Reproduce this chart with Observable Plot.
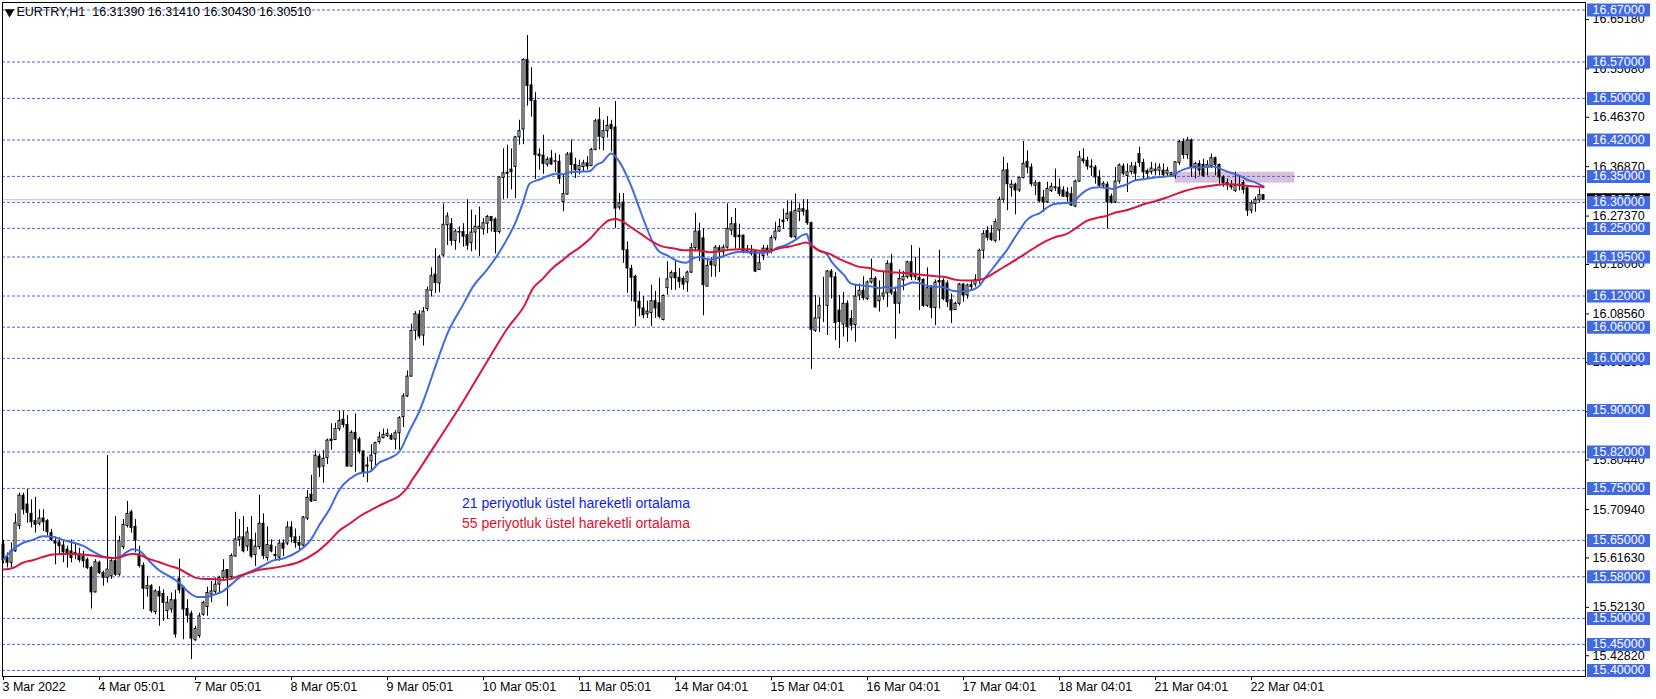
<!DOCTYPE html>
<html><head><meta charset="utf-8">
<script src="https://cdn.jsdelivr.net/npm/d3@7"></script>
<script src="https://cdn.jsdelivr.net/npm/@observablehq/plot@0.6"></script>
<style>
html,body{margin:0;padding:0;background:#fff;}
#chart svg{display:block;}
</style></head><body><div id="chart"></div>
<script>
// ---- EURTRY H1 candles (index 0 = 3 Mar 2022) ----
const opens = [
15.642,15.616,15.607,15.629,15.678,15.736,15.719,15.701,15.687,15.682,
15.692,15.687,15.664,15.648,15.646,15.640,15.632,15.629,15.626,15.623,
15.619,15.612,15.597,15.550,15.607,15.587,15.578,15.581,15.610,15.584,
15.637,15.678,15.704,15.676,15.623,15.601,15.557,15.562,15.512,15.551,
15.547,15.514,15.517,15.535,15.576,15.560,15.518,15.509,15.458,15.466,
15.507,15.522,15.546,15.551,15.565,15.578,15.593,15.579,15.619,15.651,
15.656,15.638,15.651,15.622,15.637,15.682,15.616,15.640,15.622,15.617,
15.644,15.644,15.675,15.656,15.645,15.640,15.692,15.738,15.726,15.811,
15.792,15.808,15.844,15.843,15.864,15.882,15.872,15.792,15.857,15.844,
15.821,15.794,15.802,15.816,15.839,15.847,15.851,15.851,15.844,15.856,
15.887,15.927,15.965,16.053,16.084,16.044,16.095,16.130,16.161,16.144,
16.198,16.256,16.258,16.226,16.243,16.243,16.237,16.222,16.242,16.249,
16.248,16.259,16.272,16.267,16.243,16.347,16.357,16.363,16.368,16.425,
16.440,16.574,16.525,16.495,16.392,16.390,16.373,16.384,16.378,16.378,
16.301,16.315,16.394,16.372,16.362,16.368,16.375,16.370,16.401,16.458,
16.424,16.437,16.449,16.444,16.290,16.300,16.208,16.172,16.157,16.109,
16.096,16.085,16.087,16.110,16.106,16.074,16.135,16.155,16.164,16.155,
16.153,16.146,16.165,16.212,16.244,16.231,16.138,16.186,16.178,16.212,
16.204,16.213,16.246,16.258,16.236,16.236,16.204,16.205,16.205,16.170,
16.197,16.211,16.209,16.231,16.244,16.265,16.268,16.281,16.233,16.282,
16.287,16.284,16.260,16.053,16.077,16.100,16.101,16.167,16.156,16.092,
16.065,16.105,16.076,16.064,16.121,16.130,16.114,16.146,16.153,16.110,
16.119,16.125,16.182,16.127,16.105,16.150,16.156,16.185,16.162,16.155,
16.151,16.101,16.138,16.097,16.149,16.149,16.144,16.112,16.093,16.105,
16.142,16.121,16.141,16.142,16.150,16.207,16.245,16.240,16.226,16.246,
16.305,16.362,16.328,16.334,16.323,16.347,16.378,16.367,16.332,16.337,
16.309,16.300,16.322,16.327,16.328,16.323,16.319,16.316,16.292,16.340,
16.383,16.380,16.369,16.367,16.348,16.332,16.334,16.311,16.300,16.340,
16.369,16.351,16.358,16.369,16.393,16.376,16.360,16.358,16.360,16.361,
16.361,16.355,16.352,16.352,16.376,16.416,16.391,16.419,16.368,16.374,
16.372,16.367,16.370,16.385,16.372,16.348,16.337,16.332,16.322,16.332,
16.337,16.327,16.284,16.297,16.304,16.3139];
const highs = [
15.650,15.626,15.645,15.701,15.741,15.741,15.748,15.728,15.733,15.709,
15.709,15.690,15.671,15.655,15.655,15.648,15.639,15.651,15.645,15.635,
15.629,15.616,15.600,15.613,15.610,15.591,15.813,15.613,15.696,15.658,
15.690,15.725,15.708,15.690,15.639,15.607,15.581,15.565,15.555,15.561,
15.555,15.542,15.549,15.554,15.614,15.562,15.536,15.514,15.485,15.510,
15.533,15.560,15.571,15.578,15.581,15.613,15.594,15.624,15.704,15.690,
15.696,15.675,15.696,15.664,15.737,15.701,15.676,15.651,15.638,15.651,
15.651,15.686,15.686,15.672,15.658,15.696,15.746,15.775,15.823,15.816,
15.823,15.845,15.874,15.875,15.899,15.898,15.890,15.861,15.893,15.848,
15.822,15.810,15.834,15.839,15.858,15.864,15.864,15.855,15.861,15.888,
15.932,15.976,16.066,16.090,16.092,16.098,16.137,16.174,16.211,16.198,
16.297,16.280,16.269,16.248,16.253,16.259,16.305,16.285,16.275,16.291,
16.269,16.275,16.273,16.270,16.349,16.403,16.410,16.403,16.427,16.458,
16.576,16.621,16.559,16.511,16.403,16.429,16.387,16.400,16.394,16.391,
16.353,16.396,16.420,16.385,16.381,16.381,16.388,16.404,16.460,16.482,
16.458,16.465,16.458,16.494,16.317,16.317,16.224,16.179,16.160,16.128,
16.119,16.110,16.141,16.129,16.154,16.122,16.186,16.168,16.186,16.173,
16.157,16.168,16.221,16.279,16.260,16.250,16.191,16.194,16.217,16.217,
16.218,16.297,16.271,16.288,16.258,16.237,16.217,16.217,16.207,16.204,
16.217,16.217,16.236,16.262,16.268,16.287,16.303,16.303,16.316,16.297,
16.305,16.305,16.262,16.121,16.117,16.156,16.169,16.171,16.165,16.121,
16.127,16.111,16.092,16.142,16.143,16.157,16.149,16.191,16.157,16.149,
16.166,16.188,16.200,16.137,16.170,16.167,16.187,16.217,16.194,16.212,
16.153,16.174,16.140,16.151,16.208,16.153,16.149,16.124,16.108,16.144,
16.144,16.143,16.149,16.161,16.210,16.246,16.253,16.255,16.268,16.310,
16.387,16.375,16.342,16.337,16.348,16.417,16.399,16.374,16.342,16.339,
16.323,16.339,16.337,16.364,16.345,16.330,16.328,16.329,16.343,16.398,
16.403,16.387,16.382,16.371,16.361,16.340,16.339,16.316,16.367,16.374,
16.374,16.374,16.377,16.377,16.406,16.383,16.364,16.377,16.375,16.374,
16.374,16.367,16.358,16.378,16.419,16.422,16.425,16.422,16.377,16.380,
16.383,16.380,16.393,16.387,16.374,16.351,16.345,16.342,16.358,16.351,
16.342,16.329,16.303,16.310,16.326,16.3141];
const lows = [
15.605,15.597,15.597,15.627,15.671,15.699,15.683,15.674,15.664,15.678,
15.667,15.658,15.648,15.603,15.623,15.607,15.597,15.607,15.613,15.607,
15.597,15.594,15.518,15.549,15.584,15.562,15.568,15.575,15.581,15.581,
15.632,15.674,15.664,15.626,15.597,15.517,15.541,15.510,15.507,15.485,
15.494,15.498,15.510,15.462,15.547,15.459,15.491,15.421,15.456,15.462,
15.504,15.504,15.530,15.546,15.546,15.575,15.523,15.577,15.618,15.638,
15.626,15.629,15.615,15.600,15.632,15.613,15.610,15.626,15.613,15.610,
15.619,15.640,15.645,15.635,15.630,15.635,15.688,15.723,15.725,15.771,
15.760,15.796,15.823,15.842,15.860,15.866,15.791,15.791,15.781,15.816,
15.771,15.761,15.781,15.794,15.835,15.845,15.848,15.842,15.824,15.824,
15.867,15.925,15.964,16.034,16.037,16.024,16.090,16.118,16.125,16.126,
16.195,16.217,16.216,16.208,16.221,16.214,16.208,16.205,16.208,16.196,
16.237,16.240,16.243,16.201,16.239,16.305,16.307,16.324,16.307,16.410,
16.411,16.485,16.464,16.344,16.362,16.354,16.368,16.371,16.358,16.335,
16.282,16.314,16.353,16.346,16.353,16.359,16.362,16.369,16.399,16.401,
16.399,16.424,16.397,16.250,16.285,16.183,16.125,16.109,16.061,16.080,
16.076,16.077,16.061,16.077,16.076,16.072,16.122,16.131,16.131,16.135,
16.131,16.127,16.163,16.205,16.186,16.082,16.138,16.156,16.156,16.165,
16.194,16.210,16.236,16.210,16.210,16.201,16.201,16.197,16.165,16.169,
16.188,16.197,16.201,16.226,16.242,16.249,16.263,16.231,16.229,16.263,
16.274,16.256,15.979,16.050,16.050,16.069,16.044,16.114,16.034,16.019,
16.041,16.031,16.053,16.031,16.111,16.111,16.111,16.143,16.097,16.089,
16.112,16.098,16.121,16.037,16.085,16.130,16.153,16.150,16.150,16.092,
16.098,16.098,16.076,16.063,16.095,16.111,16.098,16.067,16.092,16.101,
16.108,16.114,16.130,16.137,16.143,16.191,16.226,16.225,16.222,16.226,
16.300,16.284,16.310,16.276,16.319,16.345,16.355,16.330,16.313,16.300,
16.281,16.298,16.319,16.321,16.311,16.310,16.300,16.292,16.290,16.339,
16.374,16.362,16.350,16.335,16.329,16.326,16.249,16.297,16.298,16.335,
16.351,16.319,16.353,16.342,16.367,16.342,16.345,16.353,16.351,16.351,
16.346,16.350,16.348,16.345,16.371,16.383,16.383,16.348,16.345,16.351,
16.348,16.351,16.365,16.351,16.335,16.329,16.323,16.324,16.319,16.322,
16.316,16.273,16.278,16.281,16.299,16.3043];
const closes = [
15.612,15.607,15.629,15.683,15.736,15.709,15.703,15.685,15.680,15.692,
15.685,15.666,15.651,15.644,15.639,15.627,15.623,15.616,15.623,15.612,
15.610,15.597,15.550,15.608,15.587,15.578,15.594,15.610,15.584,15.648,
15.680,15.701,15.674,15.650,15.601,15.557,15.562,15.514,15.552,15.542,
15.530,15.530,15.535,15.469,15.554,15.517,15.505,15.461,15.480,15.504,
15.530,15.549,15.552,15.565,15.578,15.591,15.577,15.620,15.652,15.656,
15.629,15.665,15.619,15.638,15.682,15.620,15.641,15.629,15.620,15.644,
15.634,15.675,15.656,15.645,15.640,15.694,15.732,15.725,15.813,15.790,
15.807,15.842,15.841,15.864,15.880,15.872,15.792,15.857,15.844,15.821,
15.781,15.792,15.813,15.837,15.848,15.853,15.855,15.844,15.856,15.885,
15.927,15.965,16.053,16.085,16.042,16.090,16.131,16.158,16.145,16.194,
16.257,16.273,16.226,16.244,16.242,16.234,16.217,16.242,16.253,16.253,
16.260,16.272,16.264,16.243,16.348,16.356,16.355,16.358,16.425,16.437,
16.574,16.524,16.495,16.391,16.389,16.374,16.382,16.373,16.379,16.345,
16.316,16.392,16.372,16.362,16.370,16.375,16.369,16.401,16.456,16.426,
16.437,16.447,16.441,16.288,16.298,16.208,16.173,16.155,16.109,16.096,
16.083,16.090,16.110,16.096,16.080,16.120,16.152,16.164,16.154,16.147,
16.142,16.165,16.212,16.244,16.208,16.141,16.178,16.179,16.213,16.205,
16.213,16.249,16.258,16.233,16.233,16.204,16.207,16.201,16.167,16.183,
16.211,16.204,16.231,16.244,16.253,16.262,16.278,16.233,16.284,16.287,
16.282,16.260,16.055,16.077,16.101,16.100,16.167,16.156,16.068,16.070,
16.105,16.060,16.063,16.119,16.130,16.116,16.146,16.153,16.098,16.119,
16.125,16.182,16.125,16.105,16.153,16.157,16.185,16.157,16.156,16.150,
16.101,16.135,16.097,16.146,16.146,16.114,16.108,16.092,16.105,16.142,
16.121,16.140,16.137,16.151,16.207,16.239,16.232,16.228,16.262,16.305,
16.361,16.335,16.334,16.323,16.347,16.374,16.367,16.335,16.337,16.302,
16.300,16.326,16.330,16.329,16.316,16.311,16.310,16.294,16.340,16.387,
16.379,16.369,16.367,16.348,16.332,16.336,16.300,16.300,16.340,16.371,
16.355,16.358,16.369,16.355,16.376,16.358,16.355,16.365,16.363,16.367,
16.353,16.361,16.356,16.377,16.416,16.391,16.419,16.367,16.374,16.361,
16.351,16.372,16.385,16.372,16.348,16.337,16.333,16.329,16.332,16.334,
16.324,16.284,16.298,16.305,16.314,16.3051];

// ---- moving averages: [bar index, value] ----
const ema21 = [[0,15.613],[2.3,15.632],[4.8,15.645],[7.3,15.651],[9.8,15.658],[12.3,15.657],[14.8,15.651],[17.3,15.646],[19.8,15.640],[22.3,15.629],[24.8,15.619],[27.3,15.616],[29,15.618],[30.7,15.627],[32.3,15.633],[34,15.630],[36.5,15.610],[39,15.592],[41.5,15.581],[44,15.568],[46.5,15.549],[48.6,15.541],[50.7,15.541],[52.75,15.546],[54.8,15.552],[56.9,15.565],[59,15.579],[61.1,15.588],[63.2,15.595],[65.25,15.603],[67.3,15.611],[70.25,15.616],[73.5,15.628],[76.9,15.652],[79,15.680],[81.5,15.710],[84,15.748],[86.5,15.768],[89,15.779],[91.5,15.782],[94,15.800],[96.5,15.808],[99,15.821],[101.5,15.861],[104,15.899],[105.25,15.924],[108,15.985],[111,16.048],[114.8,16.102],[117.3,16.137],[120.7,16.169],[123.2,16.195],[125.7,16.227],[128.2,16.265],[129.8,16.298],[131.5,16.336],[134,16.344],[136.5,16.352],[138.2,16.355],[139.8,16.354],[141.5,16.358],[144,16.359],[146.5,16.360],[148.2,16.372],[149.8,16.378],[151.9,16.394],[154,16.378],[155.7,16.353],[157.3,16.324],[159,16.288],[160.7,16.253],[162.3,16.224],[164,16.205],[165.7,16.199],[167.3,16.192],[169,16.186],[170.7,16.184],[172.3,16.192],[174,16.195],[176.5,16.190],[179,16.194],[181.5,16.201],[184,16.205],[186.5,16.204],[189,16.203],[191.5,16.204],[193.2,16.212],[195.7,16.218],[198.2,16.229],[199.8,16.237],[200.8,16.239],[201.5,16.224],[203.2,16.210],[205.7,16.201],[207.3,16.183],[209,16.169],[210.25,16.159],[211.5,16.146],[212.75,16.142],[214.8,16.140],[217.3,16.138],[219,16.135],[220.7,16.138],[222.3,16.135],[224,16.138],[225.7,16.142],[227.3,16.146],[229,16.145],[230.7,16.140],[232.3,16.138],[234,16.138],[235.7,16.135],[237.3,16.130],[239,16.129],[240.7,16.130],[242.3,16.132],[244,16.140],[245.25,16.153],[247,16.170],[249,16.190],[251,16.210],[252.3,16.226],[254,16.246],[255.7,16.265],[257.3,16.274],[259,16.279],[260.7,16.289],[262.3,16.296],[264,16.298],[265.7,16.299],[267.3,16.300],[269,16.313],[270.7,16.323],[272.3,16.328],[274,16.329],[275.7,16.328],[277.3,16.326],[279,16.330],[280.25,16.333],[282.75,16.342],[285.25,16.345],[287.75,16.348],[290.25,16.350],[292.3,16.351],[293.6,16.358],[295.25,16.364],[296.9,16.367],[299.4,16.367],[301.9,16.369],[303.6,16.367],[305.25,16.361],[307.75,16.355],[309.4,16.350],[311.1,16.343],[312.75,16.339],[314.4,16.333],[315,16.331]];
const ema55 = [[0,15.594],[2.3,15.597],[4.8,15.607],[7.3,15.612],[9.8,15.618],[12.3,15.623],[14.8,15.624],[17.3,15.624],[19.8,15.623],[22.3,15.621],[24.8,15.618],[27.3,15.616],[29,15.617],[30.7,15.622],[32.3,15.624],[34,15.622],[36.5,15.614],[39,15.608],[41.5,15.601],[44,15.595],[46.5,15.584],[48.6,15.577],[50.7,15.576],[52.75,15.576],[54.8,15.574],[56.9,15.576],[59,15.582],[61.1,15.587],[63.2,15.592],[65.25,15.595],[67.3,15.597],[70.25,15.601],[74,15.609],[78,15.626],[81.5,15.649],[84,15.669],[86.5,15.682],[89,15.696],[91.5,15.707],[94,15.717],[96.5,15.726],[99,15.736],[100.7,15.749],[102.3,15.768],[104,15.787],[105.25,15.802],[110,15.858],[114,15.906],[118,15.957],[122,16.008],[126,16.058],[130.25,16.102],[132.3,16.134],[134.8,16.153],[137.3,16.174],[139.8,16.189],[141.5,16.200],[144,16.213],[146.5,16.229],[149,16.250],[151.5,16.266],[153.2,16.268],[154.8,16.263],[157.3,16.250],[159.8,16.237],[162.3,16.224],[164.8,16.215],[167.3,16.212],[169.8,16.208],[172.3,16.208],[175.25,16.206],[176.5,16.204],[179,16.206],[181.5,16.209],[184,16.210],[186.5,16.210],[189,16.207],[191.5,16.207],[194,16.212],[196.5,16.215],[199,16.220],[200.7,16.223],[201.9,16.218],[204,16.207],[206.5,16.201],[209,16.191],[211.5,16.183],[214,16.176],[216.5,16.174],[218.2,16.169],[220.7,16.167],[223.2,16.165],[225.7,16.164],[228.2,16.162],[230.7,16.160],[233.2,16.158],[235.7,16.156],[238.2,16.151],[240.7,16.150],[243.2,16.150],[245.25,16.154],[248,16.166],[251,16.180],[254,16.194],[257,16.209],[260.7,16.226],[263.2,16.234],[265.7,16.239],[268.2,16.251],[270.7,16.264],[273.2,16.270],[275.7,16.274],[278.2,16.281],[280.25,16.284],[282.75,16.290],[285.25,16.297],[287.75,16.302],[290.25,16.308],[292.75,16.315],[295.25,16.322],[297.75,16.327],[300.25,16.330],[302.75,16.333],[305.25,16.335],[307.75,16.335],[309.4,16.333],[311.9,16.331],[314.4,16.330],[315,16.329]];

// ---- horizontal levels, price scale ticks, time labels ----
const levels = [16.67,16.57,16.50,16.42,16.35,16.30,16.25,16.195,16.12,16.06,16.00,15.90,15.82,15.75,15.65,15.58,15.50,15.45,15.40];
const priceTicks = [16.6518,16.5568,16.4637,16.3687,16.2737,16.1806,16.0856,15.9925,15.8975,15.8044,15.7094,15.6163,15.5213,15.4282];
const timeTickBars = [0,24,48,72,96,120,144,168,192,216,240,264,288,312];
const timeTickLabels = ["3 Mar 2022","4 Mar 05:01","7 Mar 05:01","8 Mar 05:01","9 Mar 05:01","10 Mar 05:01","11 Mar 05:01","14 Mar 04:01","15 Mar 04:01","16 Mar 04:01","17 Mar 04:01","18 Mar 04:01","21 Mar 04:01","22 Mar 04:01"];
const zone = {start: 292.9, end: 322.8, low: 16.337, high: 16.358};
const titleText = "EURTRY,H1  16.31390 16.31410 16.30430 16.30510";
const legendLines = ["21 periyotluk üstel hareketli ortalama","55 periyotluk üstel hareketli ortalama"];

if (!(opens.length === highs.length && highs.length === lows.length && lows.length === closes.length)) {
  throw new Error("length mismatch " + [opens.length, highs.length, lows.length, closes.length].join(","));
}

const candles = closes.map((c, i) => ({i, o: opens[i], h: highs[i], l: lows[i], c}));
const bulls = candles.filter(d => d.c >= d.o);
const bears = candles.filter(d => d.c < d.o);
const fastPts = ema21.map(([i, v]) => ({i, v}));
const slowPts = ema55.map(([i, v]) => ({i, v}));
const lastPrice = closes[closes.length - 1];

const xMin = -0.25, xMax = 395.5;
const yMin = 15.3883, yMax = 16.6844;
const fmt = v => v.toFixed(5);
const FONT = "'Liberation Sans', Arial, sans-serif";

const chart = Plot.plot({
  width: 1656, height: 699,
  marginLeft: 2, marginRight: 71, marginTop: 2, marginBottom: 23,
  style: {fontFamily: FONT, fontSize: "12px", background: "#fff", overflow: "visible", color: "#000"},
  x: {type: "linear", domain: [xMin, xMax], axis: null},
  y: {type: "linear", domain: [yMin, yMax], axis: null},
  marks: [
    Plot.rect([zone], {x1: "start", x2: "end", y1: "low", y2: "high", fill: "#d9bfd9"}),
    Plot.ruleY(levels, {y: d => d, stroke: "#4169e1", strokeWidth: 1, strokeDasharray: "3,2"}),
    Plot.ruleY([lastPrice], {y: d => d, stroke: "#c0c0c0", strokeWidth: 1}),
    // wicks and bodies
    Plot.ruleX(candles, {x: "i", y1: "l", y2: "h", stroke: "#000", strokeWidth: 1}),
    Plot.rect(bears, {x1: d => d.i - 0.375, x2: d => d.i + 0.375, y1: "o", y2: "c", fill: "#000", insetTop: -0.5, insetBottom: -0.5}),
    Plot.rect(bulls, {x1: d => d.i - 0.25, x2: d => d.i + 0.25, y1: "o", y2: "c", fill: "#fff", stroke: "#000", strokeWidth: 1}),
    // moving averages
    Plot.line(fastPts, {x: "i", y: "v", stroke: "#4169e1", strokeWidth: 2, curve: "monotone-x"}),
    Plot.line(slowPts, {x: "i", y: "v", stroke: "#dc143c", strokeWidth: 2, curve: "monotone-x"}),
    Plot.frame({stroke: "#000", strokeWidth: 1}),
    // price scale
    Plot.ruleY(priceTicks, {y: d => d, x1: xMax, x2: xMax + 1, stroke: "#000"}),
    Plot.text(priceTicks, {x: xMax, y: d => d, text: fmt, dx: 7, textAnchor: "start", fill: "#000", fontSize: 12.5}),
    Plot.ruleY([lastPrice], {y: d => d, x1: xMax + 0.5, x2: xMax + 16.25, stroke: "#000", strokeWidth: 13}),
    Plot.text([lastPrice], {x: xMax, y: d => d, text: fmt, dx: 7, textAnchor: "start", fill: "#fff", fontSize: 12.5}),
    Plot.ruleY(levels, {y: d => d, x1: xMax + 0.5, x2: xMax + 16.25, stroke: "#4169e1", strokeWidth: 13}),
    Plot.text(levels, {x: xMax, y: d => d, text: fmt, dx: 7, textAnchor: "start", fill: "#fff", fontSize: 12.5}),
    // time scale
    Plot.ruleX(timeTickBars, {x: d => d, y1: yMin, y2: yMin - 0.008, stroke: "#000"}),
    Plot.text(timeTickBars, {x: d => d, text: (d, k) => timeTickLabels[k], frameAnchor: "bottom", lineAnchor: "middle", dy: 10, dx: -1, textAnchor: "start", fill: "#000", fontSize: 12.5}),
    // title and notes
    Plot.dot([0], {frameAnchor: "top-left", dx: 7, dy: 9.5, symbol: "triangle", rotate: 180, r: 3.6, fill: "#000", stroke: "none"}),
    Plot.text([titleText], {frameAnchor: "top-left", lineAnchor: "middle", dx: 14, dy: 9.6, textAnchor: "start", fill: "#000", fontSize: 12.5}),
    Plot.text([legendLines[0]], {frameAnchor: "top-left", lineAnchor: "middle", dx: 459.5, dy: 500.7, textAnchor: "start", fill: "#0a1ee6", fontSize: 14}),
    Plot.text([legendLines[1]], {frameAnchor: "top-left", lineAnchor: "middle", dx: 459.5, dy: 520.7, textAnchor: "start", fill: "#e0102e", fontSize: 14})
  ]
});
document.getElementById("chart").appendChild(chart);
</script>
</body></html>
